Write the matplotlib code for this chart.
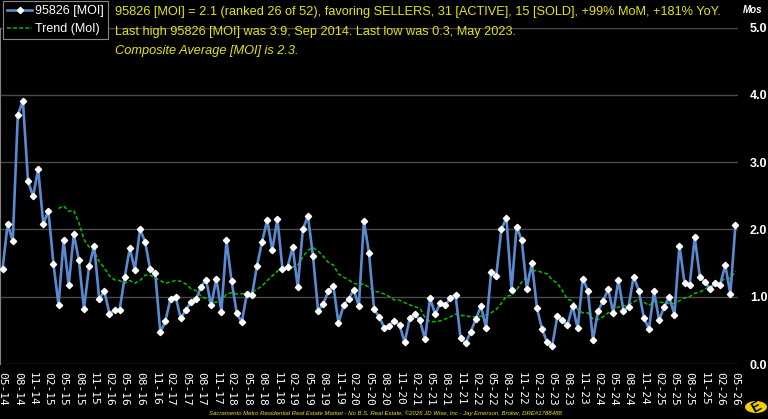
import matplotlib
matplotlib.use("Agg")
import matplotlib.pyplot as plt
from matplotlib.lines import Line2D
from matplotlib.patches import Circle
import numpy as np
import pandas as pd

# monthly MOI for 95826, May 2014 .. May 2026
moi = [
    1.41, 2.08, 1.83, 3.70, 3.91, 2.72, 2.49, 2.90, 2.08, 2.28, 1.49, 0.88,
    1.84, 1.17, 1.93, 1.54, 0.82, 1.45, 1.75, 0.97, 1.08, 0.75, 0.80, 0.80,
    1.29, 1.72, 1.40, 2.00, 1.82, 1.41, 1.35, 0.47, 0.64, 0.97, 1.00, 0.68,
    0.80, 0.92, 0.96, 1.15, 1.25, 0.87, 1.27, 0.78, 1.84, 1.23, 0.76, 0.62,
    1.04, 1.02, 1.46, 1.82, 2.14, 1.69, 2.16, 1.41, 1.44, 1.74, 1.14, 2.00,
    2.20, 1.60, 0.79, 0.89, 1.08, 1.16, 0.61, 0.87, 0.97, 1.10, 0.86, 2.12,
    1.65, 0.81, 0.70, 0.54, 0.57, 0.64, 0.58, 0.32, 0.68, 0.74, 0.65, 0.37,
    0.98, 0.74, 0.90, 0.87, 0.98, 1.03, 0.38, 0.31, 0.48, 0.67, 0.86, 0.54,
    1.37, 1.31, 2.00, 2.17, 1.10, 2.04, 1.84, 1.12, 1.50, 0.83, 0.52, 0.32,
    0.27, 0.71, 0.65, 0.58, 0.86, 0.53, 1.27, 1.09, 0.36, 0.79, 0.94, 1.11,
    0.76, 1.25, 0.79, 0.85, 1.30, 1.09, 0.69, 0.52, 1.08, 0.65, 0.85, 1.00,
    0.73, 1.76, 1.20, 1.17, 1.88, 1.30, 1.22, 1.12, 1.20, 1.18, 1.47, 1.04,
    2.07,
]

# trend line, starts at the 12th month (Apr 2015)
trend = [
    2.31, 2.35, 2.27, 2.28, 2.10, 1.85, 1.74, 1.68, 1.52, 1.43, 1.31, 1.25, 1.24,
    1.20, 1.24, 1.20, 1.24, 1.32, 1.32, 1.28, 1.24, 1.20, 1.22, 1.24, 1.23,
    1.19, 1.12, 1.09, 1.01, 0.97, 0.92, 0.92, 0.94, 1.04, 1.06, 1.04, 1.04,
    1.06, 1.07, 1.11, 1.16, 1.24, 1.31, 1.38, 1.43, 1.40, 1.44, 1.47, 1.59,
    1.69, 1.73, 1.68, 1.60, 1.51, 1.47, 1.34, 1.29, 1.25, 1.20, 1.18, 1.19,
    1.14, 1.08, 1.07, 1.04, 1.00, 0.95, 0.95, 0.91, 0.88, 0.85, 0.83, 0.69,
    0.63, 0.63, 0.64, 0.67, 0.70, 0.74, 0.72, 0.72, 0.70, 0.70, 0.71, 0.73,
    0.76, 0.81, 0.90, 1.01, 1.02, 1.10, 1.22, 1.29, 1.38, 1.39, 1.36, 1.34,
    1.25, 1.20, 1.09, 0.96, 0.94, 0.81, 0.76, 0.76, 0.67, 0.66, 0.70, 0.76,
    0.80, 0.85, 0.86, 0.88, 0.92, 0.97, 0.92, 0.87, 0.93, 0.92, 0.91, 0.90,
    0.90, 0.94, 0.98, 1.00, 1.05, 1.07, 1.11, 1.16, 1.17, 1.22, 1.27, 1.27, 1.38,
]

months = pd.date_range("2014-05-01", periods=len(moi), freq="MS")
month_labels = [d.strftime("%m-%y") for d in months]
y_ticks = [0, 1, 2, 3, 4, 5]

headline = ("95826 [MOI] = 2.1 (ranked 26 of 52), favoring SELLERS, 31 [ACTIVE], "
            "15 [SOLD], +99% MoM, +181% YoY.")
highlow = "Last high 95826 [MOI] was 3.9, Sep 2014. Last low was 0.3, May 2023."
composite = "Composite Average [MOI] is 2.3."
footer = ("Sacramento Metro Residential Real Estate Market - No B.S. Real Estate, "
          "\u00a92026 JD Wise, Inc - Jay Emerson, Broker, DRE#1788488")

YELLOW = "#e6e600"
BLUE = "#5a8bd0"
GREEN = "#00c000"

plt.rcParams["font.family"] = ["Liberation Sans", "DejaVu Sans"]

W, H = 768, 419
fig = plt.figure(figsize=(W / 100, H / 100), dpi=100, facecolor="black")
ax = fig.add_axes([0.0 / W, (H - 364) / H, 738 / W, (364 - 27.5) / H])
ax.set_facecolor("black")

x = np.arange(len(moi))
ax.plot(x, moi, color=BLUE, lw=1.9, marker="D", ms=3.2, mfc="white", mec="white",
        zorder=3)
ax.plot(x[len(moi) - len(trend):], trend, color=GREEN, lw=1.1, ls=(0, (2.5, 1.5)),
        zorder=2)

ax.set_xlim(-0.5, len(moi) - 0.5)
ax.set_ylim(0, 5)
ax.set_xticks(x[::3])
ax.set_xticklabels(month_labels[::3], rotation=-90, fontsize=8, color="white",
                   family="DejaVu Sans Mono")
ax.tick_params(axis="x", length=0, pad=6)

ax.yaxis.tick_right()
ax.set_yticks(y_ticks)
ax.set_yticklabels([f"{v:.1f}" for v in y_ticks], fontsize=9, color="white",
                   fontweight="bold")
ax.tick_params(axis="y", length=0, pad=8.5)
ax.grid(axis="y", color="#4a4a4a", lw=1)
ax.set_axisbelow(True)
for s in ["top", "right", "bottom"]:
    ax.spines[s].set_visible(False)
ax.spines["left"].set_color("#808080")

fig.text(743 / W, 1 - 10 / H, "Mos", color="white", fontsize=7, style="italic",
         fontweight="bold", va="center", ha="left")

handles = [
    Line2D([], [], color=BLUE, lw=1.9, marker="D", ms=3.2, mfc="white", mec="white"),
    Line2D([], [], color=GREEN, lw=1.1, ls=(0, (2.5, 1.5))),
]
leg = fig.legend(handles, ["95826 [MOI]", "Trend (MoI)"], loc="upper left",
                 bbox_to_anchor=(3 / W, 1 - 1 / H), fontsize=9, labelcolor="white",
                 facecolor="black", edgecolor="#888888", fancybox=False,
                 framealpha=1, numpoints=1, handlelength=2.0, handletextpad=0.2,
                 borderpad=0.35, labelspacing=0.45, borderaxespad=0)
leg.get_frame().set_linewidth(0.8)

fig.text(115 / W, 1 - 12 / H, headline, color=YELLOW, fontsize=9.2, va="center")
fig.text(115 / W, 1 - 32 / H, highlow, color=YELLOW, fontsize=9.2, va="center")
fig.text(115 / W, 1 - 51 / H, composite, color=YELLOW, fontsize=9.2, va="center",
         style="italic")
fig.text(385 / W, 1 - 413 / H, footer, color=YELLOW, fontsize=4.3, style="italic",
         ha="center", va="center")

# little round logo in the corner
fig.patches.append(Circle((756 / W, 1 - 407 / H), 11 / W, transform=fig.transFigure,
                          facecolor="#f0d000", edgecolor="none"))
fig.text(756 / W, 1 - 407 / H, "E", color="black", fontsize=10, fontweight="bold",
         rotation=30, ha="center", va="center")

fig.savefig("out.png", dpi=100, facecolor="black")
